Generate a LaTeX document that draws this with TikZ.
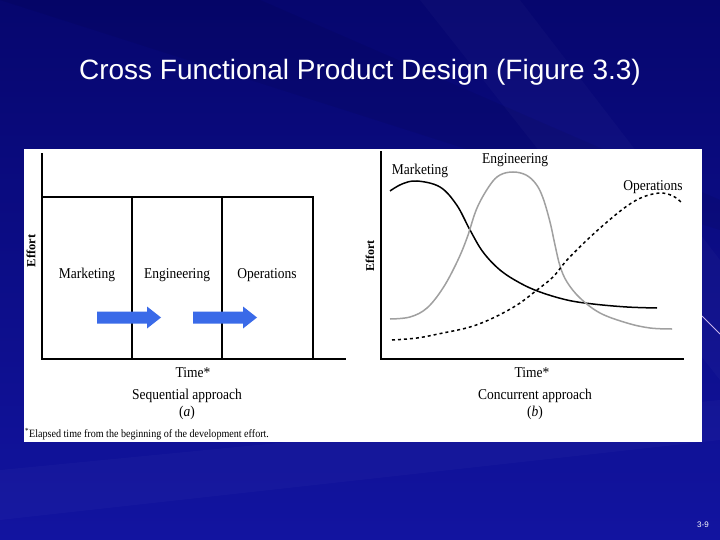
\documentclass[tikz,border=0pt]{standalone}
\usepackage{fontspec}
\setmainfont{Liberation Serif}
\newfontfamily\titlefont{Liberation Sans}
\newfontfamily\figfont[FakeStretch=0.9]{Liberation Serif}
\definecolor{bgtop}{RGB}{6,6,110}
\definecolor{bgbot}{RGB}{18,20,160}
\definecolor{arrowblue}{RGB}{58,106,232}
\definecolor{curvegray}{RGB}{160,160,160}
\definecolor{streak}{RGB}{200,180,235}
\begin{document}
\begin{tikzpicture}[x=1pt,y=-1pt,
  axis/.style={line width=1.8pt,line cap=rect},
  figtext/.style={font=\figfont\fontsize{15}{17}\selectfont,inner sep=0pt,anchor=base},
  efftext/.style={font=\rmfamily\bfseries\fontsize{12.5}{14}\selectfont,inner sep=0pt,rotate=90},
  mktcurve/.style={line width=1.5pt,black},
  engcurve/.style={line width=1.5pt,curvegray},
  opscurve/.style={line width=1.5pt,black,dash pattern=on 3pt off 3pt},
  pics/bluearrow/.style={code={\fill[arrowblue] (0,-6) -- (50,-6) -- (50,-11) -- (64,0) -- (50,11) -- (50,6) -- (0,6) -- cycle;}}
]
\useasboundingbox (0,0) rectangle (720,540);
% background
\shade[top color=bgtop,bottom color=bgbot] (0,0) rectangle (720,540);
\fill[white,opacity=0.025] (420,0) -- (520,0) -- (720,260) -- (720,380) -- cycle;
\fill[black,opacity=0.06] (0,0) -- (260,0) -- (720,200) -- (720,230) -- cycle;
\fill[white,opacity=0.025] (0,470) -- (720,400) -- (720,440) -- (0,520) -- cycle;
\draw[streak,line width=1pt] (702,316) -- (720,334);
% title
\node[font=\titlefont\fontsize{28}{32}\selectfont,text=white,anchor=base,inner sep=0pt] (title) at (360,80) {Cross Functional Product Design (Figure 3.3)};
\node[font=\titlefont\fontsize{8}{9}\selectfont,text=white,inner sep=0pt] (pagenum) at (703,525) {3-9};
% figure panel
\fill[white] (24,149) rectangle (702,442);
% ---- sequential panel
\draw[axis] (42,154) -- (42,359) -- (345,359);
\draw[axis] (42,197) -- (313,197) -- (313,359);
\draw[axis] (132,197) -- (132,359);
\draw[axis] (222,197) -- (222,359);
\node[efftext] (effa) at (31,251) {Effort};
\node[figtext] (mkta) at (87,278) {Marketing};
\node[figtext] (enga) at (177,278) {Engineering};
\node[figtext] (opsa) at (267,278) {Operations};
\pic at (97,317.5) {bluearrow};
\pic at (193,317.5) {bluearrow};
\node[figtext] (timea) at (193,377) {Time*};
\node[figtext] (seqa) at (187,399) {Sequential approach};
\node[figtext] (laba) at (187,416) {(\textit{a})};
\node[figtext,anchor=base west,font=\figfont\fontsize{11.2}{13}\selectfont] (foot) at (25,437) {\textsuperscript{*}Elapsed time from the beginning of the development effort.};
% ---- concurrent panel
\draw[axis] (381,152) -- (381,359) -- (683,359);
\node[efftext,font=\rmfamily\bfseries\fontsize{12}{14}\selectfont] (effb) at (370,256) {Effort};
\node[figtext] (mktb) at (420,175) {Marketing};
\node[figtext] (engb) at (515,164) {Engineering};
\node[figtext] (opsb) at (653,191) {Operations};
\draw[mktcurve] plot[smooth,tension=0.6] coordinates {(390,191) (402,184) (417,181) (440,187) (456.7,205) (470,230) (483,252) (500,270) (520,283) (540,292) (567,300) (593,304) (627,307) (657,308)};
\draw[engcurve] plot[smooth,tension=0.6] coordinates {(390,319) (410,317) (427,308) (443,288) (457,262) (467,238) (477,208) (490,185) (500,175) (513,172) (526,175) (536,184) (543,198) (550,222) (555,245) (560,266) (567,282) (580,298) (600,313) (627,323) (650,328) (672,329)};
\draw[opscurve] plot[smooth,tension=0.6] coordinates {(392,340) (417,338) (443,333) (470,327) (493,318) (517,305) (537,290) (553,277) (567,260) (587,240) (607,222) (627,206) (643,197) (660,193) (673,196) (682,203)};
\node[figtext] (timeb) at (532,377) {Time*};
\node[figtext] (conb) at (535,399) {Concurrent approach};
\node[figtext] (labb) at (535,416) {(\textit{b})};
\end{tikzpicture}
\end{document}
